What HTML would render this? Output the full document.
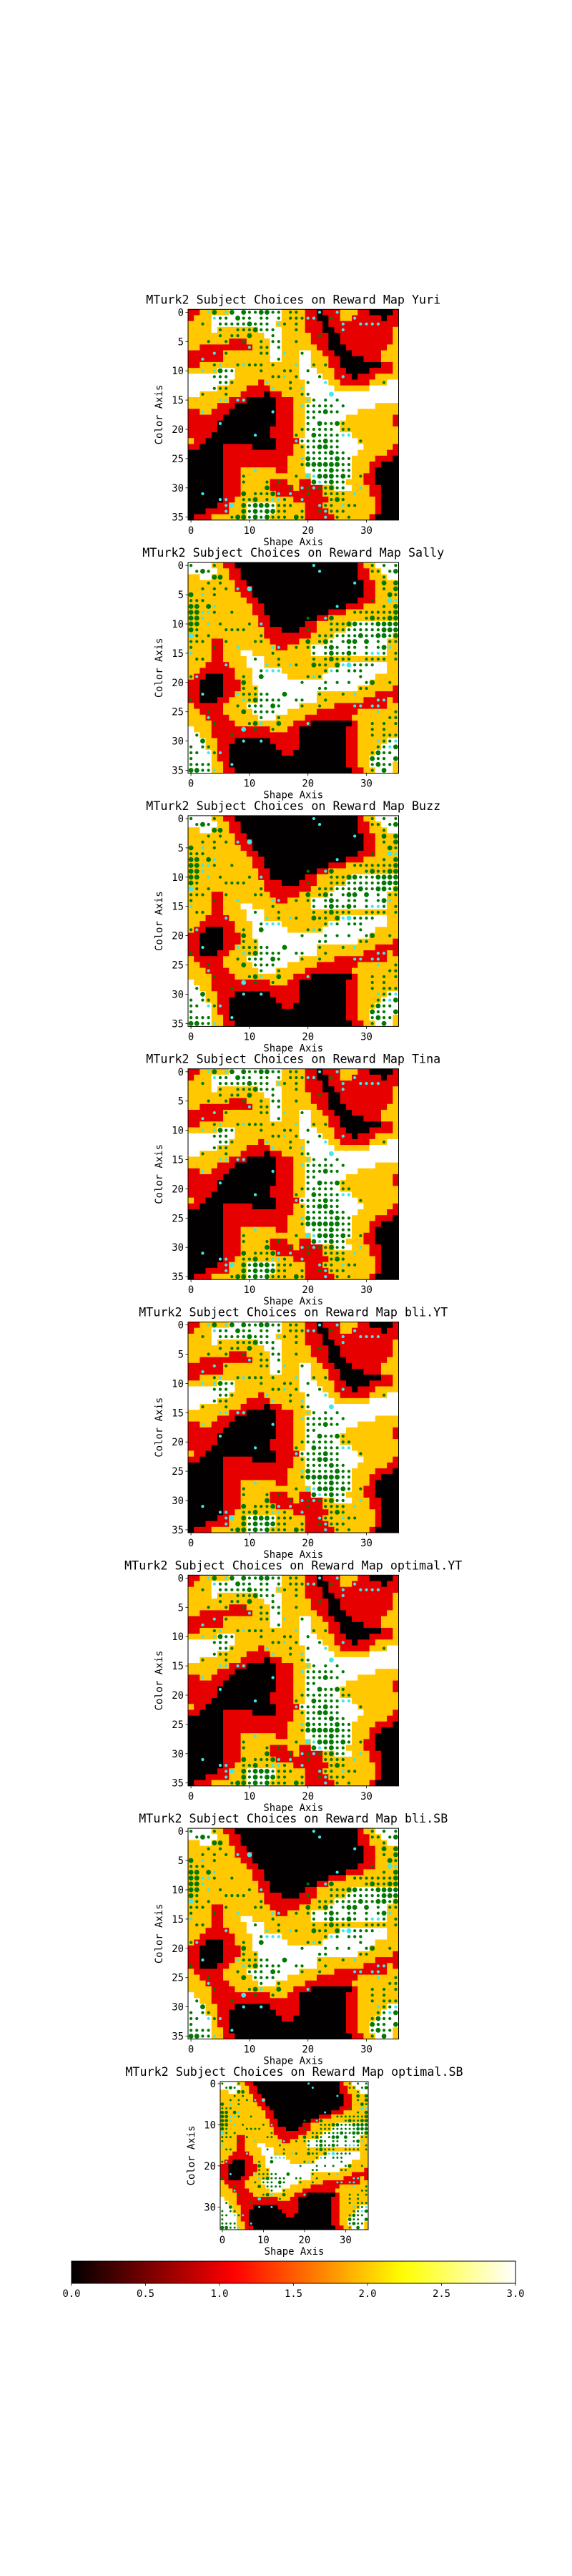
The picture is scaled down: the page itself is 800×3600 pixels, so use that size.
<!DOCTYPE html>
<html><head><meta charset="utf-8">
<style>
html,body{margin:0;padding:0;background:#fff;}
svg{display:block;font-family:"DejaVu Sans Mono","Liberation Mono",monospace;}
</style></head>
<body>
<svg id="fig" width="800" height="3600" viewBox="0 0 800 3600" xmlns="http://www.w3.org/2000/svg"></svg>
<script>
// ---- data ----
const panelNames = ["Yuri","Sally","Buzz","Tina","bli.YT","optimal.YT","bli.SB","optimal.SB"];
const panelMaps = ["A","B","B","A","A","A","B","B"];
const panelDots = ["A","B","B","A","A","A","B","B"];
const levelValues = {K:0.01, R:0.99, Y:1.99, W:3.0};
const cbTicks = [0.0,0.5,1.0,1.5,2.0,2.5,3.0];
const rewardA = [
"RRYYYYYWWWWWWWWWYYYYRRKRRRYYYRRKKKKR",
"RYYYWWWWWWWWWWWWYYYYRRKKRRYYRRRRRKRR",
"YYYYWWWWWWWWWWWYYYYYRRRKRRRRRRRRRRRR",
"YYYYWYYYYYYYWWWWYYYYRRRKKRRRRRRRRRRY",
"YYYYYYYYYYYYYWWWYYYYYRRRKKRRRRRRRRRY",
"YYYYYYYRRRYYYYWWYYYYYRRRKKRRRRRRRRRY",
"YYRRRRRRRRRYYYWWYYYYYYRRKKKRRRRRRRYY",
"RRRRRRYYYYYYYYWWYYYWWYYRRKKKRRRRRYYY",
"RRRRRRYYYYYYYYWWYYYWWYYYRRKKKKRRRYYY",
"RRYYYYYYYYYYYYYYYYYWWYYYRRKKKKKKKRRY",
"YYYYYWWWYYYYYYYYYYYWWWYYYRRKKKKRRRRY",
"WWWWWWWWYYYYYYYYYYYWWWWYYRRRKRRRYYYY",
"WWWWWWWYYYYYRYYYYYYYWWWWYYRRRRRYYYWW",
"WWWWWYYYYYRRRRYYYYYYWWWWWYYYYYYWWWWW",
"WWYYYYYYYRRRRKRRYYYYWWWWWWWWWWWWWWWW",
"YYYYYYYRRRKKKKKRRRYYYWWWWWWWWWWWWWWW",
"YYYYYRRRKKKKKKKRRRYYWWWWWWWWWWWWYYYY",
"RRYYRRRKKKKKKKKRRRYYWWWWWWWWWYYYYYYY",
"RRRRRRKKKKKKKKKRRRYYWWWWWWWYYYYYYYYR",
"RRRRRKKKKKKKKKKRRRYYWWWWWWYYYYYYYYYR",
"RRRRRKKKKKKKKKRRRRYYWWWWWWYYYYYYYYYY",
"RRRRKKKKKKKKKKRRRRYYWWWWWWWWYYYYYYYY",
"YRRKKKKKKKKKKKKRRRRWWWWWWWWWWYYYYYYY",
"RRKKKKRRRRRKKKKRRRYYWWWWWWWWWWYYYYYR",
"KKKKKKRRRRRRRRRRRRYYWWWWWWWWWYYYYYRR",
"KKKKKKRRRRRRRRRRRYYYWWWWWWWWYYYYRRRK",
"KKKKKKRRRRRRRRRRRYYYWWWWWWWWYYYRRKKK",
"KKKKKKRRRYYYYYYRRYYYWWWWWWWWYYYRKKKK",
"KKKKKKRRRYYYYYYYYYYYYWWWWWWWYYRRKKKK",
"KKKKKKRRRYYYYYRRRYYRRWWWWWWYYYRRKKKK",
"KKKKKKRRRYYYYYRRRRYRRRRYYWWWYYYRRKKK",
"KKKKKKRRRYYYYYYRRRRRRRRYYYYYYYYRRKKK",
"KKKKKKRRYYYYYYYYYYRRRRRRYYYYYYYYRKKK",
"KKKKKRRYYYWWWWWYYYYYRRRYYYYYYYYYRKKK",
"KKKRRRRYYYWWWWWYYYYYRRRRYYYYYYYYRKKK",
"KRRRYYYYYYWWWWYYYYYYRRRRRYYYYYYRKKKK"];
const rewardB = [
"WWWWYYRRKKKKKKKKKKKKKKKKKKKKKRYYWWWW",
"WWWWWYYRRKKKKKKKKKKKKKKKKKKKKRRYYWWW",
"YYWWYYYRRKKKKKKKKKKKKKKKKKKKKRRYYYWW",
"YYYYYYYYRRKKKKKKKKKKKKKKKKKKKKRRYYYY",
"YYYYYYYYRRRKKKKKKKKKKKKKKKKKKKRRYYYY",
"YYYYYYYYYRRKKKKKKKKKKKKKKKKKKKRRYYYY",
"YYYYYYYYYYRRKKKKKKKKKKKKKKKKKRRRYYYY",
"YYYYYYYYYYYRRKKKKKKKKKKKKKKRRRYYYYYY",
"YYYYYYYYYYYRRKKKKKKKKKKKRRRYYYYYYYYY",
"YYYYYYYYYYYYRRKKKKKKKKRRYYYYYYYYYYYY",
"YYYYYYYYYYYYRRKKKKKKRRYYYYYYWWWWWWWW",
"YYYYYYYYYYYYYRRRKKKRRRYYYYYWWWWWWWWW",
"YYYYYYYYYYYYYRRRRRRRRYYYYWWWWWWWWWWY",
"YYYYRRYYYYYYYYRRRRRYYYYYWWWWWWWWWWYY",
"YYYYRRYYYYYYYYYRRYYYYWWWWWWWWWWWWWYY",
"YYYYRRYYYWWYYYYYYYYYYWWWWWWWWWWWWWYY",
"YYYYRRYYYYWWWYYYYYYYYYYYYYYYYYYYYYYY",
"YYYRRRRYYYWWWYYYYYYYYYYYYYWWWWWWWWYY",
"YYRRRRRRYYYWWWWWYYYYYYYYWWWWWWWWWWYY",
"YRRKKKRRYYYWWWWWWYYYYYYWWWWWWWWWYYYY",
"RRKKKKRRRYYWWWWWWWWWWWWWWWWWWWWYYYYY",
"RRKKKKRRRYYYWWWWWWWWWWWWWWWWWYYYYYYR",
"RRKKKKRRYYYYWWWWWWWWWWYYYYYYYYYYRRRR",
"RRKKKRRYYYYYWWWWWWWWWWYYYYYYYYRRRRYR",
"YRRRRRYYYYWWWWWWWWWYYYYYYRRRRRRRRRYY",
"YYRRRRYYYYYWWWWWWYYYYYRRRRRRRYYYYYYY",
"YYYRRRRYYYYYWWWYYYYYRRRRRRRRYYYYYYYY",
"YYYYRRRRYYYYYYYYYYRRRKKKKKKKRYYYYYYY",
"WYYYRRRRRRRRRRYYYRRKKKKKKKKRRYYYYYYY",
"WWYYRRRRRRRRRRRRRRRKKKKKKKKRRYYYYYYY",
"WWWYYRRRKKKKKKRRRRRKKKKKKKKRRYYYYYWW",
"WWWYYRRKKKKKKKKRRRRKKKKKKKKRRYYYYWWW",
"WWWWYRRKKKKKKKKKRRKKKKKKKKKRRYYYWWWW",
"WWWWYRRKKKKKKKKKKKKKKKKKKKKRRYYWWWWW",
"WWWWYYRKKKKKKKKKKKKKKKKKKKKRRYYWWWWY",
"WWWWYYRRKKKKKKKKKKKKKKKKKKKKRRYYWWWY"];
// dots: per row "col+kind" (g small green, G big green, c small cyan, C big cyan)
const dotsA = [
"3c 4G 6c 7G 9G 10g 11g 12G 13G 14g 15g 17g 18g 22c 25c",
"4c 5g 6g 8G 9g 10g 12g 13g 15g 17g 18g 19g 20c 21c 24g 28c",
"2g 5g 6g 7g 8g 9g 10G 11g 12g 13g 15c 16g 18g 26c 29c 30c 31c 32c",
"5g 8g 9g 10g 11G 12g 13g 14g 18g 26c",
"5g 7g 8g 10G 14g 22g",
"3g 6g 9g 12g 14g 15g 18g",
"10c 12g 13g 15g",
"4c 6g 12g 13g 16c 19g",
"2c 15g",
"4g 5c 8g 9c 10g 11g 12g 14g 18c 21g 23g",
"2c 4c 5G 6g 7g 12g 16g 17g 20g",
"4g 5g 6g 14g 15g 16c 18g 22g 26c",
"5g 6g 7g 13c 17g 20g 23c 33g",
"4g 5g 6g 14c 17g 19c",
"2g 6g 19g 20g 24C",
"5c 6c 8c 9c 20c 21g 23g 25g",
"19c 20g 21g 22g 23g 24g 26g",
"2c 14c 20g 21g 22g 23G 24g 25g",
"20g 21g",
"5c 20g 22G 23g 24g 25G 26g",
"19g 20g 21g 22g 23g 24g 26g 27g",
"11c 18g 21G 22g 23g 24g 25g 26c 27c",
"18c 19g 20g 21g 22g 23G 24g 25g 29g",
"19g 20g 21g 22G 23G 24g 25g",
"20g 21g 22g 23g 24G 25g 26g",
"19c 20G 21g 22g 23g 24g 25G 26g 27g",
"19g 20G 21G 22G 23G 24G 25G 26g 27g",
"11c 21g 22g 23g 24G 25g 26g 27g",
"9g 18g 20C 21c 22G 23G 24G 25g 26G 27g 29g",
"9g 13g 15g 21G 22c 23g 24G 25g 26g",
"13G 17g 19c 20g 21c 22g 23g 24G 25g 26g 29c",
"2c 9G 11g 12g 13g 14G 15c 17c 20g 23g 24g 25g 26g 28c",
"5c 6c 9g 10g 11G 13g 14c 15c 16g 19c 24g 25G 26g",
"6c 7C 9G 10g 11G 12G 13G 14g 15g 16g 17g 22c 23g 24g 26c 27g 28g",
"6c 9G 10g 11G 12g 13G 14G 15g 16g 19g 22g 23c 24g 25g 26g",
"7g 8G 9G 10g 11G 12g 13G 14g 15g 16g 18G 19g 23c 25g 27g"];
const dotsB = [
"0g 4g 21c 31g 33g 35g",
"1g 2G 3g 22c 31g 32g 34g 35G",
"4G 5G 33g",
"3g 5g 28c 33G 35G",
"2g 4g 6g 8c 10C 33g 35G",
"0G 2c 4g 34G 35g",
"0g 1g 2g 31g 34C 35c",
"0G 1G 3G 4c 25c 33g 35G",
"0G 1G 2c 3c 4g 7g 28g 29g 30g 31g 32g 33g 34g 35G",
"0G 1G 2c 20g 23c 24G 30g 31G 32g 33g 34G 35G",
"0G 1G 3c 5g 10g 12c 24g 25g 26g 27G 28G 29g 30g 31g 32G 33G 34G 35G",
"0G 1g 6g 7g 8g 9g 20g 24g 25g 26g 27g 28g 29g 30g 31g 32g 33G 34G 35G",
"0C 1g 3g 12g 22g 23g 24g 25g 26g 27g 28g 29G 30g 31g 32G 33G 34g 35G",
"0g 1g 2g 6g 11g 12g 20G 22g 23G 24g 26g 27G 28G 30G 32g 34g 35g",
"0g 4g 8c 14c 15c 18g 20g 21g 23g 24G 25g 27g 28g 30g 32g 33G 34c",
"0c 14g 21g 23g 24G 25g 26g 27G 28g 30g 31c 32c 33g 35g",
"1g 2g 11g 15g 21g 23g 24G 25g 26g 27g 30g 31g 32g 33g 35g",
"6c 13c 15g 17c 18g 21G 22g 23g 25G 26c 27C 28g 29g 30g 31g",
"12g 13c 14c 15c 23g 24c 25g 27g 28g 29g",
"0g 1c 9g 12G 20g 21c 22g 29g",
"9G 19g 23g 25g 27g 30g 31G 34g",
"9g 11g 22g 23g 29g 30g",
"2c 8c 9g 10g 11g 12g 13g 16G 22g 26g 28c",
"0g 9c 10g 11G 12g 13g 14g 15g 18g 19g 23g 32c 33c",
"8g 10g 11g 12g 14G 15g 19g 22g 28c 29c 31c 32c",
"3g 9G 11g 12g 13g 14g 32c 35g",
"3c 12g 15g 34g 35g",
"4g 10g 11G 12c 15G 20c 31g 33g 35g",
"9C 11g 14g 31g 33g",
"1g 7g 31g 33g 34g 35g",
"2G 9c 12c 32c 33g 34g 35c",
"0g 2g 3g 32g 33g 34c 35G",
"0g 1g 3c 4g 5c 31g 32G 33g 34g",
"0g 31G 32g 33g 35G",
"0g 1g 2g 3g 7c 31g 32G 33g 34g",
"0G 1G 2g 3g 4c 31g 33G"];

// ---- helpers ----
const NS="http://www.w3.org/2000/svg";
const svg=document.getElementById('fig');
function mk(tag,attrs,parent){const e=document.createElementNS(NS,tag);for(const k in attrs)e.setAttribute(k,attrs[k]);(parent||svg).appendChild(e);return e;}
function clip01(x){return Math.max(0,Math.min(1,x));}
function hot(v){const t=v/3;const r=clip01(t/0.365),g=clip01((t-0.365)/0.381),b=clip01((t-0.746)/0.254);
  return `rgb(${Math.round(r*255)},${Math.round(g*255)},${Math.round(b*255)})`;}
const maps={A:rewardA,B:rewardB};
const dots={A:dotsA,B:dotsB};
const dotStyle={g:["#007a00",0.26],G:["#007a00",0.42],c:["#40e8e8",0.26],C:["#40e8e8",0.42]};

function panel(idx,left,top,size,yStep){
  const name=panelNames[idx];
  const g=mk('g',{});
  
  
  const cell=size/36;
  const xs=c=>left+c*cell, ys=r=>top+r*cell;
  const grid=maps[panelMaps[idx]];
  grid.forEach((row,r)=>{for(let c=0;c<36;c++){
    const rc=mk('rect',{x:xs(c).toFixed(2),y:ys(r).toFixed(2),width:(cell+0.35).toFixed(2),height:(cell+0.35).toFixed(2),fill:hot(levelValues[row[c]])},g);
    
    
  }});
  dots[panelDots[idx]].forEach((row,r)=>{row.split(' ').forEach(tok=>{
    if(!tok)return;const c=parseInt(tok);const k=tok.replace(/[0-9]/g,'');const st=dotStyle[k];
    const d=mk('circle',{cx:(xs(c)+cell/2).toFixed(2),cy:(ys(r)+cell/2).toFixed(2),r:(st[1]*cell).toFixed(2),fill:st[0]},g);
    
    
  });});
  mk('rect',{x:left,y:top,width:size,height:size,fill:'none',stroke:'#000','stroke-width':1},g);
  const fs=13.9;
  for(let v=0;v<=35;v+=yStep){
    const y=ys(v)+cell/2;
    mk('line',{x1:left-3.5,x2:left,y1:y,y2:y,stroke:'#000','stroke-width':0.8},g);
    const t=mk('text',{x:left-6,y:y+5,'text-anchor':'end','font-size':fs},g);t.textContent=v;
    
    
  }
  for(let v=0;v<=30;v+=10){
    const x=xs(v)+cell/2;
    mk('line',{x1:x,x2:x,y1:top+size,y2:top+size+3.5,stroke:'#000','stroke-width':0.8},g);
    const t=mk('text',{x:x,y:top+size+19,'text-anchor':'middle','font-size':fs},g);t.textContent=v;
    
    
  }
  const title=mk('text',{x:left+size/2,y:top-8,'text-anchor':'middle','font-size':16.7},g);
  title.textContent='MTurk2 Subject Choices on Reward Map '+name;
  
  
  const xl=mk('text',{x:left+size/2,y:top+size+35,'text-anchor':'middle','font-size':13.9},g);
  xl.textContent='Shape Axis';
  
  
  const cy=top+size/2, cx=left-36;
  const yl=mk('text',{x:cx,y:cy,'text-anchor':'middle','font-size':13.9,transform:`rotate(-90 ${cx} ${cy})`},g);
  yl.textContent='Color Axis';
  
  
}
for(let i=0;i<7;i++) panel(i,263,432.3+353.8*i,294.5,5);
panel(7,308,2909,207,10);

// colorbar
const defs=mk('defs',{});
const lg=mk('linearGradient',{id:'hotgrad',x1:0,x2:1,y1:0,y2:0},defs);
for(let i=0;i<=30;i++){mk('stop',{offset:(i/30),'stop-color':hot(i/10)},lg);}
const cbL=100,cbR=721,cbT=3160,cbB=3191;
const cbx=v=>cbL+(v-cbTicks[0])/(cbTicks[cbTicks.length-1]-cbTicks[0])*(cbR-cbL);
const cb=mk('rect',{x:cbL,y:cbT,width:cbR-cbL,height:cbB-cbT,fill:'url(#hotgrad)',stroke:'#000','stroke-width':1});


cbTicks.forEach(v=>{
  mk('line',{x1:cbx(v),x2:cbx(v),y1:cbB,y2:cbB+3.5,stroke:'#000','stroke-width':0.8});
  const t=mk('text',{x:cbx(v),y:cbB+19,'text-anchor':'middle','font-size':13.9});t.textContent=v.toFixed(1);
  
  
});
</script>
</body></html>
